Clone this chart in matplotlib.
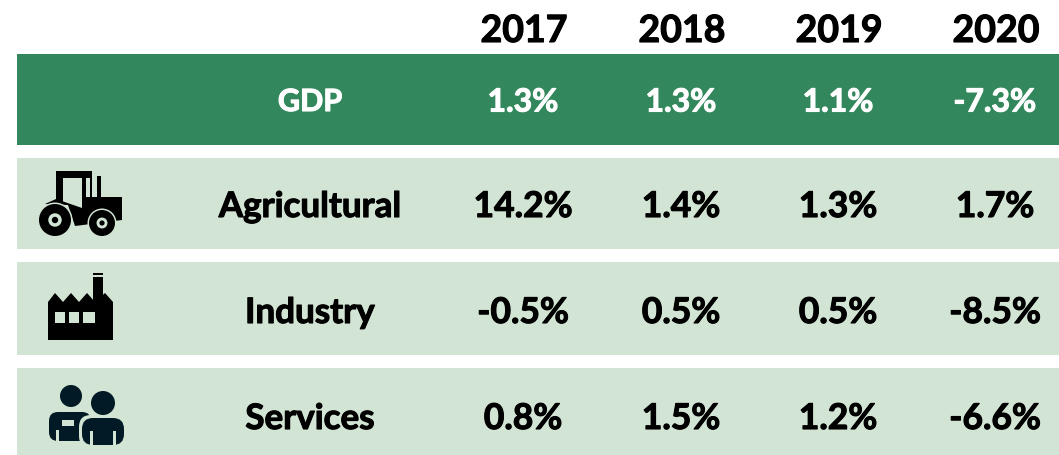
import matplotlib
matplotlib.use("Agg")
import matplotlib.pyplot as plt
import matplotlib.patheffects as pe
from matplotlib.patches import Rectangle, Circle, Polygon, FancyBboxPatch

years = ["2017", "2018", "2019", "2020"]
gdp_label = "GDP"
gdp_values = ["1.3%", "1.3%", "1.1%", "-7.3%"]
sectors = ["Agricultural", "Industry", "Services"]
agricultural = ["14.2%", "1.4%", "1.3%", "1.7%"]
industry = ["-0.5%", "0.5%", "0.5%", "-8.5%"]
services = ["0.8%", "1.5%", "1.2%", "-6.6%"]

DARK = "#32885C"
LIGHT = "#D2E4D3"
BLACK = "#000000"
NAVY = "#021A25"

plt.rcParams["font.family"] = ["Lato", "DejaVu Sans"]
fig = plt.figure(figsize=(10.59, 4.55), dpi=100)
ax = fig.add_axes([0, 0, 1, 1])
ax.set_xlim(0, 1059)
ax.set_ylim(455, 0)
ax.axis("off")

col_x = [523, 681, 838, 995]
label_x = 310
bars = [(54, 145, DARK), (158, 249, LIGHT), (262, 355, LIGHT), (368, 456, LIGHT)]
for top, bottom, color in bars:
    ax.add_patch(Rectangle((17, top), 1042, bottom - top, fc=color, ec="none"))


def label(x, y, s, size, color="black"):
    t = ax.text(x, y, s, ha="center", va="center", fontsize=size, fontweight="bold", color=color)
    t.set_path_effects([pe.withStroke(linewidth=0.8, foreground=color)])


for x, y in zip(col_x, years):
    label(x + 1, 31, y, 27)

label(label_x, 102, gdp_label, 22, "white")
for x, v in zip(col_x, gdp_values):
    label(x, 102, v, 23, "white")

for name, vals, y in zip(sectors, [agricultural, industry, services], [207, 313, 419]):
    label(label_x, y, name, 25.2)
    for x, v in zip(col_x, vals):
        label(x, y, v, 25.5)

# tractor icon
ax.add_patch(Rectangle((56, 171), 36, 7, fc=BLACK, ec="none"))
ax.add_patch(Rectangle((56, 171), 7, 36, fc=BLACK, ec="none"))
ax.add_patch(Rectangle((82, 171), 4, 40, fc=BLACK, ec="none"))
ax.add_patch(Rectangle((90, 171), 2, 27, fc=BLACK, ec="none"))
ax.add_patch(Rectangle((97, 176), 4, 22, fc=BLACK, ec="none"))
ax.add_patch(Polygon([(45, 204), (56, 199), (82, 208), (84, 197), (122, 197),
                      (122, 220), (75, 226), (68, 205)], fc=BLACK, ec="none"))
for cx, cy, r in [(55, 220, 16), (102, 223, 13)]:
    ax.add_patch(Circle((cx, cy), r + 1.5, fc=LIGHT, ec="none"))
    ax.add_patch(Circle((cx, cy), r, fc=BLACK, ec="none"))
    ax.add_patch(Circle((cx, cy), r * 0.42, fc=LIGHT, ec="none"))
    ax.add_patch(Circle((cx, cy), r * 0.2, fc=BLACK, ec="none"))

# factory icon
ax.add_patch(Rectangle((93, 273), 10, 35, fc=BLACK, ec="none"))
ax.add_patch(Rectangle((93, 275), 10, 2, fc=LIGHT, ec="none"))
ax.add_patch(Polygon([(48, 340), (48, 302), (55, 293), (63, 302), (71, 293), (79, 302),
                      (87, 293), (95, 302), (105, 293), (113, 302), (113, 340)],
                     fc=BLACK, ec="none"))
for wx, ww in [(55, 10), (69, 10), (83, 12)]:
    ax.add_patch(Rectangle((wx, 312), ww, 11, fc=LIGHT, ec="none"))

# people icon
ax.add_patch(Circle((71, 396), 11, fc=NAVY, ec="none"))
ax.add_patch(FancyBboxPatch((49, 412), 42, 29, boxstyle="round,pad=0,rounding_size=9", fc=NAVY, ec="none"))
ax.add_patch(Rectangle((56, 430), 3, 11, fc=LIGHT, ec="none"))
ax.add_patch(Rectangle((62, 420), 12, 6, fc=LIGHT, ec="none"))
ax.add_patch(Circle((103, 403), 13.5, fc=LIGHT, ec="none"))
ax.add_patch(Circle((103, 403), 12, fc=NAVY, ec="none"))
ax.add_patch(FancyBboxPatch((79, 415), 48, 33, boxstyle="round,pad=0,rounding_size=12", fc=LIGHT, ec="none"))
ax.add_patch(FancyBboxPatch((82, 418), 42, 27, boxstyle="round,pad=0,rounding_size=11", fc=NAVY, ec="none"))
ax.add_patch(Rectangle((90, 431), 3, 14, fc=LIGHT, ec="none"))
ax.add_patch(Rectangle((113, 431), 3, 14, fc=LIGHT, ec="none"))

fig.savefig("out.png", dpi=100, facecolor="white")
